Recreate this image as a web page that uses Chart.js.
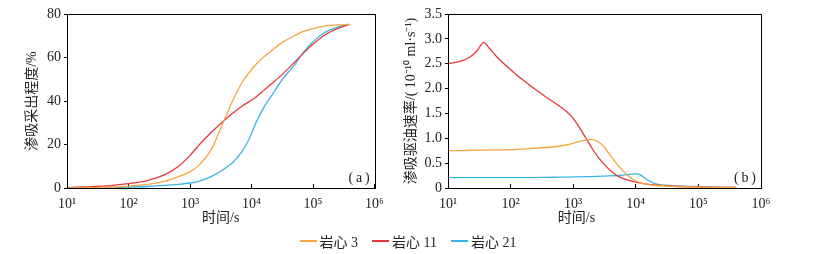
<!DOCTYPE html>
<html><head><meta charset="utf-8">
<script src="https://cdn.jsdelivr.net/npm/chart.js@4.4.1/dist/chart.umd.min.js"></script>
<style>
body{margin:0;background:#fff;width:816px;height:254px;position:relative;overflow:hidden}
#ca{position:absolute;left:0;top:0}
#cb{position:absolute;left:396px;top:0}
#legend{position:absolute;top:231px;left:0;width:816px;height:20px;display:flex;justify-content:center;align-items:center;font-family:'Liberation Serif','Noto Sans CJK SC',serif;font-size:14px;color:#222}
#legend .it{display:flex;align-items:center;margin:0 7px}
#legend .ln{display:inline-block;width:17px;height:1.5px;margin-right:3px}
</style>
</head><body>
<canvas id="ca" width="396" height="232"></canvas>
<canvas id="cb" width="420" height="232"></canvas>
<div id="legend"></div>
<script>
// ---- data ----
const seriesNames = ['岩心 3', '岩心 11', '岩心 21'];
const seriesColors = ['#F4A541', '#E6393C', '#3AB4E4'];
const xTickValues = [10, 100, 1000, 10000, 100000, 1000000];
const xTickLabels = ['10¹', '10²', '10³', '10⁴', '10⁵', '10⁶'];

// panel (a): recovery degree (%)
const timeA = [10, 20, 50, 100, 200, 400, 650, 1000, 1400, 2200, 3400, 5000, 7000, 9000, 12000, 16000, 22000, 33000, 50000, 70000, 100000, 160000, 250000, 390000];
const recovery3  = [0, 0.1, 0.4, 0.9, 1.7, 3.2, 5.2, 7.5, 10.5, 17.5, 29.7, 40.5, 48.5, 52.8, 57, 60.4, 63.5, 67.3, 70, 72, 73.3, 74.5, 75, 75.2];
const recovery11 = [0.2, 0.5, 1.1, 2.0, 3.4, 6.3, 10, 15, 19.8, 25.5, 30.5, 34.5, 37.6, 39.6, 42, 45, 48.3, 52.7, 57.8, 62, 66.2, 70.6, 73.3, 75.2];
const recovery21 = [0, 0.05, 0.2, 0.4, 0.7, 1.2, 1.7, 2.3, 3.1, 5.2, 8.3, 11.8, 16.8, 22.2, 30.4, 37.3, 43.2, 50.6, 56.5, 62.5, 67.3, 71.7, 74, 75.2];

// panel (b): imbibition oil displacement rate (1e-10 ml/s)
const timeB = [10, 15, 20, 25, 30, 37, 45, 60, 100, 200, 400, 630, 800, 1000, 1250, 1600, 2000, 2500, 3200, 4000, 5000, 6300, 8000, 10000, 12000, 15000, 20000, 30000, 50000, 100000, 200000, 400000];
const rate3  = [0.75, 0.75, 0.755, 0.758, 0.76, 0.762, 0.765, 0.768, 0.77, 0.79, 0.82, 0.845, 0.87, 0.90, 0.935, 0.965, 0.98, 0.93, 0.81, 0.64, 0.48, 0.34, 0.22, 0.14, 0.10, 0.075, 0.055, 0.04, 0.03, 0.02, 0.012, 0.01];
const rate11 = [2.50, 2.54, 2.60, 2.68, 2.78, 2.93, 2.82, 2.64, 2.38, 2.07, 1.80, 1.63, 1.53, 1.40, 1.22, 1.00, 0.80, 0.62, 0.46, 0.34, 0.25, 0.19, 0.15, 0.12, 0.10, 0.08, 0.06, 0.045, 0.03, 0.02, 0.012, 0.01];
const rate21 = [0.21, 0.21, 0.21, 0.21, 0.21, 0.21, 0.21, 0.21, 0.21, 0.21, 0.215, 0.218, 0.22, 0.222, 0.225, 0.228, 0.23, 0.235, 0.24, 0.245, 0.25, 0.26, 0.275, 0.285, 0.26, 0.17, 0.09, 0.055, 0.04, 0.03, 0.015, 0.01];

const yTitleA = '渗吸采出程度/%';
const yTitleB = '渗吸驱油速率/( 10⁻¹⁰ ml·s⁻¹)';
const xTitle = '时间/s';

// ---- helpers ----
const FONT = "'Liberation Serif','Noto Sans CJK SC',serif";
function pts(xs, ys){ return xs.map((x,i)=>({x:x, y:ys[i]})); }
function ds(xs, ys, i, smooth){
  const d = {label: seriesNames[i], data: pts(xs, ys), borderColor: seriesColors[i], borderWidth: 1.3,
          pointRadius: 0, fill: false};
  if (smooth) { d.tension = 0.3; } else { d.cubicInterpolationMode = 'monotone'; }
  return d;
}
const framePlugin = {
  id: 'frame',
  afterDatasetsDraw(chart, args, opts){
    const {ctx, chartArea: a} = chart;
    ctx.save();
    ctx.strokeStyle = '#000'; ctx.lineWidth = 1;
    ctx.strokeRect(Math.round(a.left)+0.5, Math.round(a.top)+0.5, Math.round(a.width), Math.round(a.height));
    ctx.fillStyle = '#222'; ctx.font = '14px ' + FONT;
    ctx.textAlign = 'right'; ctx.textBaseline = 'bottom';
    ctx.fillText(opts.text, a.right - 5, a.bottom - 3);
    ctx.restore();
  }
};
function makeOpts(cfg){
  return {
    responsive: false, animation: false, devicePixelRatio: 1,
    layout: {padding: {left: 0, top: 14, right: cfg.padRight, bottom: 0}},
    plugins: {legend: {display: false}, tooltip: {enabled: false}, frame: {text: cfg.panel}},
    scales: {
      x: {
        type: 'logarithmic', min: 10, max: 1000000,
        afterBuildTicks: s => { s.ticks = xTickValues.map(v => ({value: v})); },
        afterFit: s => { s.height = 44; },
        ticks: {color: '#222', font: {family: FONT, size: 14}, padding: 12, maxRotation: 0, autoSkip: false,
                callback: (v) => { const k = xTickValues.indexOf(v); return k >= 0 ? xTickLabels[k] : ''; }},
        grid: {drawOnChartArea: false, color: '#000', tickLength: -4},
        border: {color: '#000', width: 1},
        title: {display: true, text: cfg.xTitle, color: '#222', font: {family: FONT, size: 14}, padding: {top: 0, bottom: 5}}
      },
      y: {
        min: 0, max: cfg.ymax,
        afterFit: s => { s.width = cfg.yWidth; },
        ticks: {stepSize: cfg.step, color: '#222', font: {family: FONT, size: 14}, padding: 3,
                callback: cfg.yfmt},
        grid: {drawOnChartArea: false, color: '#000', tickLength: 3},
        border: {color: '#000', width: 1},
        title: {display: true, text: cfg.yTitle, color: '#222', font: {family: FONT, size: 14}, padding: {top: cfg.yTitlePad, bottom: 0}}
      }
    }
  };
}

new Chart(document.getElementById('ca'), {
  type: 'line',
  data: {datasets: [ds(timeA, recovery3, 0, true), ds(timeA, recovery11, 1, true), ds(timeA, recovery21, 2, true)]},
  options: makeOpts({panel: '(\u2009a\u2009)', padRight: 17, yWidth: 67, ymax: 80, step: 20, yTitlePad: 24,
                     yfmt: v => String(v), yTitle: yTitleA, xTitle: xTitle}),
  plugins: [framePlugin]
});
new Chart(document.getElementById('cb'), {
  type: 'line',
  data: {datasets: [ds(timeB, rate3, 0, false), ds(timeB, rate11, 1, false), ds(timeB, rate21, 2, false)]},
  options: makeOpts({panel: '(\u2009b\u2009)', padRight: 55, yWidth: 52, ymax: 3.5, step: 0.5, yTitlePad: 7,
                     yfmt: v => (v === 0 ? '0' : v.toFixed(1)), yTitle: yTitleB,
                     xTitle: xTitle + '\u2003\u2003\u2003\u2003'}),
  plugins: [framePlugin]
});

// legend
const lg = document.getElementById('legend');
seriesNames.forEach((n, i) => {
  const it = document.createElement('span'); it.className = 'it';
  const ln = document.createElement('span'); ln.className = 'ln'; ln.style.background = seriesColors[i];
  const tx = document.createElement('span'); tx.textContent = n;
  it.appendChild(ln); it.appendChild(tx); lg.appendChild(it);
});
</script>
</body></html>
